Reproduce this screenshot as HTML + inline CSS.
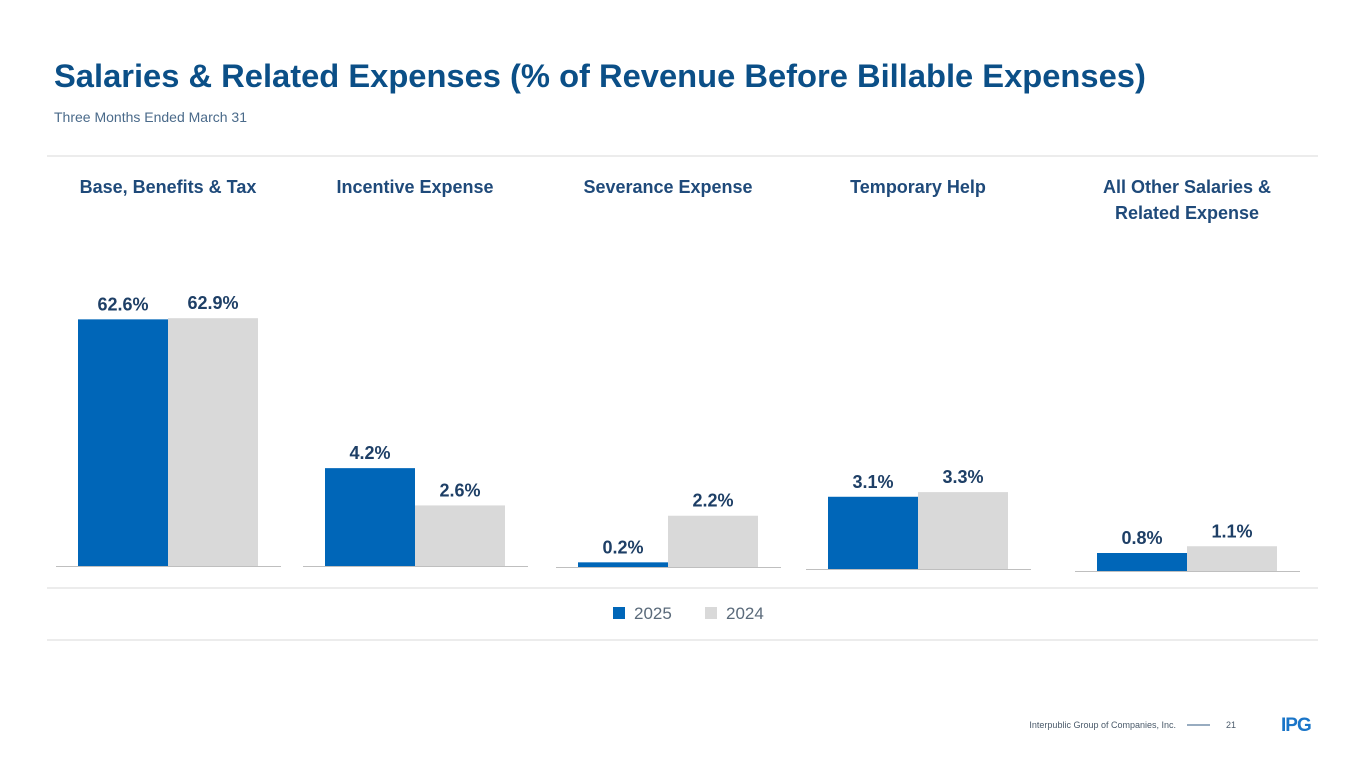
<!DOCTYPE html>
<html><head><meta charset="utf-8">
<style>
body{margin:0;width:1365px;height:768px;background:#fff;font-family:"Liberation Sans",sans-serif;overflow:hidden;position:relative}
.t{position:absolute;white-space:nowrap}
</style></head><body>
<div class="t" style="left:54px;top:57px;font-size:32.7px;font-weight:bold;color:#0b4f87">Salaries &amp; Related Expenses (% of Revenue Before Billable Expenses)</div>
<div class="t" style="left:54px;top:109px;font-size:14px;color:#4a6a8a">Three Months Ended March 31</div>
<svg id="chart" width="1365" height="768" style="position:absolute;left:0;top:0">
<line x1="47" y1="156" x2="1318" y2="156" stroke="#d9d9d9" stroke-width="1"/>
<line x1="47" y1="588" x2="1318" y2="588" stroke="#d9d9d9" stroke-width="1"/>
<line x1="47" y1="640" x2="1318" y2="640" stroke="#d9d9d9" stroke-width="1"/>
<g>
<rect x="613" y="607" width="12" height="12" fill="#0066b8"/>
<text x="634" y="619" font-size="17" fill="#5a6a7a">2025</text>
<rect x="705" y="607" width="12" height="12" fill="#d9d9d9"/>
<text x="726" y="619" font-size="17" fill="#5a6a7a">2024</text>
</g>
<g>
<text x="1176" y="728" font-size="9" fill="#4a5a6a" text-anchor="end">Interpublic Group of Companies, Inc.</text>
<line x1="1187" y1="725" x2="1210" y2="725" stroke="#5a7a9a" stroke-width="1.2"/>
<text x="1226" y="728" font-size="9" fill="#4a5a6a">21</text>
<text x="1281" y="731" font-size="19" font-weight="bold" fill="#1a75c8" letter-spacing="-1">IPG</text>
</g>
</svg>
<script>
const categories=["Base, Benefits & Tax","Incentive Expense","Severance Expense","Temporary Help","All Other Salaries &|Related Expense"];
const values2025=[62.6,4.2,0.2,3.1,0.8];
const values2024=[62.9,2.6,2.2,3.3,1.1];
const panelLeft=[78,325,578,828,1097];
const baselines=[566,566,567,569,571];
const scales=[3.94,23.3,23.3,23.3,22.5];
const svg=document.getElementById('chart');
const NS='http://www.w3.org/2000/svg';
function mk(tag,attrs){const e=document.createElementNS(NS,tag);for(const k in attrs)e.setAttribute(k,attrs[k]);svg.appendChild(e);return e;}
const bw=90;
categories.forEach((c,i)=>{
  const x0=panelLeft[i],b=baselines[i],s=scales[i];
  const cx=x0+bw;
  const lines=c.split('|');
  lines.forEach((ln,j)=>{
    const t=mk('text',{x:cx,y:193+j*26,'font-size':18,'font-weight':'bold',fill:'#1f4a7a','text-anchor':'middle'});
    t.textContent=ln;
    
    
  });
  const ax=mk('line',{x1:x0-22,y1:b+0.5,x2:x0+2*bw+23,y2:b+0.5,stroke:'#bfbfbf','stroke-width':1});
  
  
  [[values2025[i],'#0066b8',x0,'bar-2025'],[values2024[i],'#d9d9d9',x0+bw,'bar-2024']].forEach(([v,col,x,nm])=>{
    const h=v*s;
    const r=mk('rect',{x:x,y:b-h,width:bw,height:h,fill:col});
    
    
    const t=mk('text',{x:x+bw/2,y:b-h-9,'font-size':18,'font-weight':'bold',fill:'#1e3f66','text-anchor':'middle'});
    t.textContent=v.toFixed(1)+'%';
    
    
  });
});
</script>
</body></html>
